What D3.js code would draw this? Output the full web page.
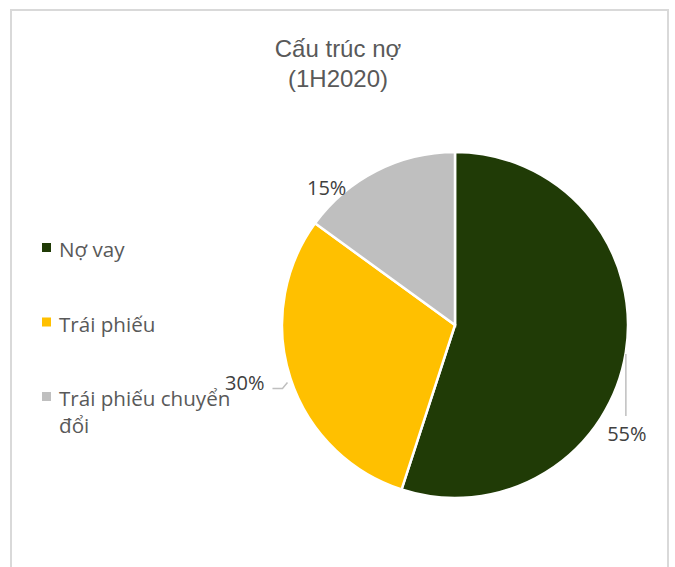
<!DOCTYPE html>
<html>
<head>
<meta charset="utf-8">
<script src="https://cdn.jsdelivr.net/npm/d3@7"></script>
<style>
  body { margin: 0; background: #fff; }
  svg text { font-family: "Open Sans", "Lato", sans-serif; }
</style>
</head>
<body>
<svg id="chart" width="675" height="567"></svg>
<script>
// data
const categories = ["Nợ vay", "Trái phiếu", "Trái phiếu chuyển đổi"];
const shares = [55, 30, 15];
const palette = ["#203b06", "#ffc000", "#bfbfbf"];
const titleLines = ["Cấu trúc nợ", "(1H2020)"];

const svg = d3.select("#chart");

// chart frame
svg.append("rect")
    .attr("x", 11)
    .attr("y", 10)
    .attr("width", 657)
    .attr("height", 570)
    .attr("fill", "#fff")
    .attr("stroke", "#d9d9d9")
    .attr("stroke-width", 2);

// title
svg.append("g").selectAll("text")
    .data(titleLines)
    .join("text")
    .attr("x", 338)
    .attr("y", (d, i) => 57 + i * 30)
    .attr("text-anchor", "middle")
    .style("font-family", "'Liberation Sans', Arial, sans-serif")
    .style("font-size", "24px")
    .attr("fill", "#595959")
    .text(d => d);

const color = d3.scaleOrdinal().domain(categories).range(palette);

const cx = 455, cy = 325, r = 173;
const pie = d3.pie().sort(null).value(d => d.v);
const arcs = pie(categories.map((c, i) => ({ c: c, v: shares[i] })));
const arc = d3.arc().innerRadius(0).outerRadius(r);

const pieG = svg.append("g").attr("transform", `translate(${cx},${cy})`);

pieG.selectAll("path")
    .data(arcs)
    .join("path")
    .attr("d", arc)
    .attr("fill", d => color(d.data.c))
    .attr("stroke", "#fff")
    .attr("stroke-width", 2.5);

// point on circle at angle a (clockwise from 12 o'clock)
const polar = (a, rad) => [Math.sin(a) * rad, -Math.cos(a) * rad];
const mid = d => (d.startAngle + d.endAngle) / 2;

const labelG = pieG.append("g");
const pct = d => d3.format(".0f")(d.data.v) + "%";

arcs.forEach((d, i) => {
    const [px, py] = polar(mid(d), r);
    const label = labelG.append("text")
        .attr("fill", "#404040")
        .style("font-size", "20px")
        .text(pct(d));

    if (i === 0) {
        // leader straight down, label under it
        labelG.append("path")
            .attr("d", `M${px},${py + 2}V${py + 64}`)
            .attr("fill", "none")
            .attr("stroke", "#bfbfbf")
            .attr("stroke-width", 1.5);
        label.attr("x", px + 1).attr("y", py + 89).attr("text-anchor", "middle");
    } else if (i === 1) {
        // elbow leader to the left
        labelG.append("path")
            .attr("d", `M${px - 3},${py + 4}L${px - 8},${py + 10}H${px - 18}`)
            .attr("fill", "none")
            .attr("stroke", "#bfbfbf")
            .attr("stroke-width", 1.5);
        label.attr("x", px - 26).attr("y", py + 12).attr("text-anchor", "end");
    } else {
        const [lx, ly] = polar(mid(d) - 0.28, 188);
        label.attr("x", lx).attr("y", ly + 7).attr("text-anchor", "middle");
    }
});

// legend
const legend = svg.append("g").attr("transform", "translate(42,243)");
const rows = [["Nợ vay"], ["Trái phiếu"], ["Trái phiếu chuyển", "đổi"]];
categories.forEach((c, i) => {
    const g = legend.append("g").attr("transform", `translate(0,${i * 74.5})`);
    g.append("rect")
        .attr("width", 9)
        .attr("height", 9)
        .attr("fill", color(c));
    g.selectAll("text")
        .data(rows[i])
        .join("text")
        .attr("x", 17)
        .attr("y", (d, j) => 14 + j * 27)
        .attr("fill", "#595959")
        .style("font-size", "20.6px")
        .text(d => d);
});
</script>
</body>
</html>
